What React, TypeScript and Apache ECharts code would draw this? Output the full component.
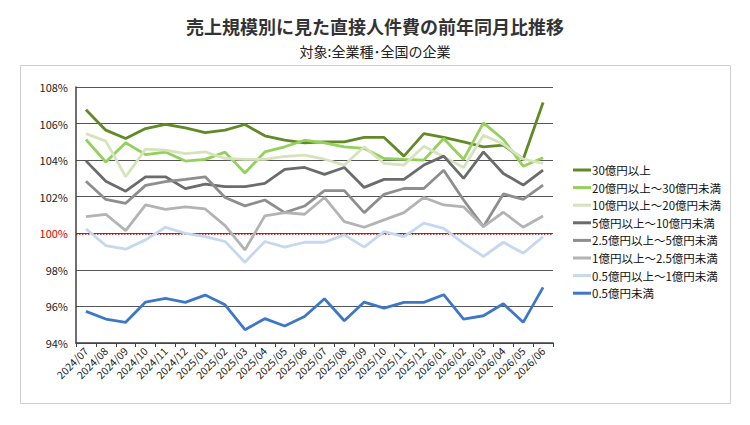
import React, { useEffect, useRef } from 'react';
import * as echarts from 'echarts';

// 横軸の月
const months = [
  '2024/07', '2024/08', '2024/09', '2024/10', '2024/11', '2024/12',
  '2025/01', '2025/02', '2025/03', '2025/04', '2025/05', '2025/06',
  '2025/07', '2025/08', '2025/09', '2025/10', '2025/11', '2025/12',
  '2026/01', '2026/02', '2026/03', '2026/04', '2026/05', '2026/06',
];

// 売上規模別の前年同月比（%）
const over30 = [106.76, 105.64, 105.18, 105.73, 105.96, 105.76, 105.51, 105.64, 105.95, 105.33, 105.09, 104.95, 105.0, 105.0, 105.24, 105.24, 104.22, 105.45, 105.24, 105.0, 104.73, 104.82, 104.05, 107.15];
const from20to30 = [105.13, 103.9, 104.95, 104.3, 104.44, 103.95, 104.04, 104.44, 103.3, 104.45, 104.73, 105.09, 104.95, 104.73, 104.64, 104.09, 104.04, 104.0, 105.18, 104.04, 106.04, 105.13, 103.67, 104.13];
const from10to20 = [105.45, 105.04, 103.09, 104.6, 104.55, 104.36, 104.45, 104.09, 104.04, 104.04, 104.2, 104.27, 104.05, 103.73, 104.73, 103.82, 103.73, 104.76, 104.18, 103.6, 105.36, 104.87, 104.05, 103.82];
const from5to10 = [103.96, 102.85, 102.3, 103.09, 103.09, 102.44, 102.69, 102.55, 102.55, 102.73, 103.5, 103.6, 103.22, 103.6, 102.51, 102.95, 102.95, 103.73, 104.22, 103.0, 104.45, 103.27, 102.64, 103.45];
const from25to5 = [102.85, 101.85, 101.64, 102.62, 102.82, 102.95, 103.09, 101.96, 101.5, 101.82, 101.13, 101.49, 102.33, 102.33, 101.13, 102.13, 102.45, 102.45, 103.45, 101.82, 100.36, 102.15, 101.85, 102.64];
const from1to25 = [100.91, 101.04, 100.15, 101.55, 101.31, 101.45, 101.33, 100.42, 99.09, 100.95, 101.13, 101.04, 101.96, 100.64, 100.33, 100.73, 101.13, 101.96, 101.55, 101.45, 100.36, 101.15, 100.33, 100.95];
const from05to1 = [100.24, 99.33, 99.13, 99.64, 100.33, 100.0, 99.82, 99.55, 98.42, 99.55, 99.24, 99.51, 99.51, 99.91, 99.24, 100.09, 99.82, 100.55, 100.27, 99.45, 98.73, 99.51, 98.91, 99.82];
const under05 = [95.73, 95.31, 95.13, 96.24, 96.44, 96.22, 96.62, 96.09, 94.73, 95.33, 94.93, 95.45, 96.42, 95.22, 96.24, 95.91, 96.22, 96.22, 96.64, 95.31, 95.49, 96.15, 95.13, 97.04];

const seriesNames = [
  '30億円以上',
  '20億円以上～30億円未満',
  '10億円以上～20億円未満',
  '5億円以上～10億円未満',
  '2.5億円以上～5億円未満',
  '1億円以上～2.5億円未満',
  '0.5億円以上～1億円未満',
  '0.5億円未満',
];
const seriesData = [over30, from20to30, from10to20, from5to10, from25to5, from1to25, from05to1, under05];
const seriesColors = ['#618a27', '#93d05c', '#d6e3bc', '#6b6b6b', '#8e8e8e', '#b3b3b3', '#c5d8ef', '#3d78c6'];

const FONT = '"Noto Sans CJK JP", "Noto Sans", sans-serif';

const App = () => {
  const chartRef = useRef(null);

  useEffect(() => {
    const chart = echarts.init(chartRef.current, null, { renderer: 'svg' });

    const series: any[] = seriesNames.map((name, i) => ({
      name,
      type: 'line',
      data: seriesData[i],
      showSymbol: false,
      symbol: 'none',
      lineStyle: { width: 2.8, color: seriesColors[i] },
      itemStyle: { color: seriesColors[i] },
      emphasis: { disabled: true },
    }));

    // 100%の基準線（赤の点線）
    series[0].markLine = {
      silent: true,
      symbol: 'none',
      label: { show: false },
      lineStyle: { color: '#c00000', type: 'dotted', width: 1.5 },
      data: [{ yAxis: 100 }],
      z: 1,
    };

    chart.setOption({
      animation: false,
      textStyle: { fontFamily: FONT },
      title: {
        text: '売上規模別に見た直接人件費の前年同月比推移',
        subtext: '対象:全業種･全国の企業',
        left: 'center',
        top: 12,
        itemGap: 9,
        textStyle: { fontSize: 18, fontWeight: 'bold', color: '#333', fontFamily: FONT },
        subtextStyle: { fontSize: 14, color: '#222', fontFamily: FONT },
      },
      graphic: [
        {
          type: 'rect',
          shape: { x: 20.5, y: 65.5, width: 710, height: 338 },
          style: { fill: 'none', stroke: '#cfcfcf', lineWidth: 1 },
          silent: true,
          z: -1,
        },
      ],
      legend: {
        orient: 'vertical',
        left: 568,
        top: 158,
        icon: 'rect',
        itemWidth: 18,
        itemHeight: 3,
        itemGap: 3.6,
        textStyle: { fontSize: 11.5, color: '#111', lineHeight: 14, padding: [0, 0, 0, -4], fontFamily: FONT },
        data: seriesNames,
      },
      grid: { left: 76, right: 197, top: 87, bottom: 82, containLabel: false },
      xAxis: {
        type: 'category',
        data: months,
        boundaryGap: true,
        axisLine: { lineStyle: { color: '#404040', width: 1.5 } },
        axisTick: { show: true, length: 4, lineStyle: { color: '#404040' } },
        axisLabel: { rotate: 45, fontSize: 10.5, color: '#222', margin: 6, interval: 0, fontFamily: FONT },
      },
      yAxis: {
        type: 'value',
        min: 94,
        max: 108,
        interval: 2,
        axisLine: { show: true, lineStyle: { color: '#404040', width: 1.5 } },
        axisTick: { show: false },
        splitLine: { lineStyle: { color: '#555', width: 1.2 } },
        axisLabel: {
          formatter: (v: number) => `${v}%`,
          fontSize: 11,
          margin: 8,
          fontFamily: FONT,
          color: (v: any) => (Number(v) === 100 ? '#e00000' : '#222'),
        },
      },
      series,
    });

    return () => {
      chart.dispose();
    };
  }, []);

  return (
    <div
      ref={chartRef}
      style={{ position: 'absolute', left: 0, top: 0, width: '750px', height: '425px', background: '#fff' }}
    ></div>
  );
};

export default App;
